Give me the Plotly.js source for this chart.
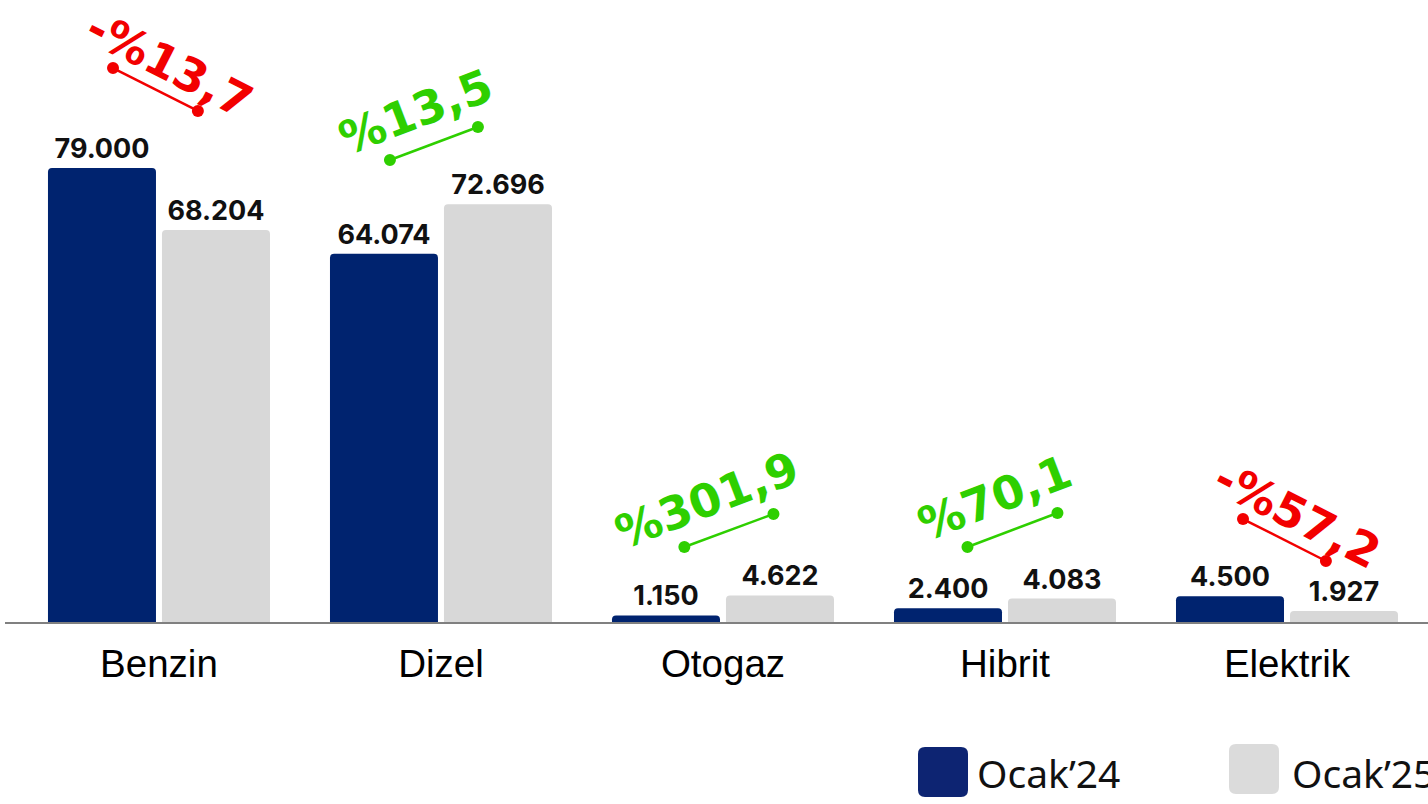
<!DOCTYPE html>
<html>
<head>
<meta charset="utf-8">
<script src="https://cdn.plot.ly/plotly-3.0.1.min.js"></script>
<style>
html,body{margin:0;padding:0;background:#fff;overflow:hidden;}
#chart{width:1428px;height:804px;}
</style>
</head>
<body>
<div id="chart"></div>
<script>
// ---- data ----
const categories = ['Benzin', 'Dizel', 'Otogaz', 'Hibrit', 'Elektrik'];
const ocak24 = [79000, 64074, 1150, 2400, 4500];
const ocak25 = [68204, 72696, 4622, 4083, 1927];
const seriesNames = ['Ocak’24', 'Ocak’25'];

// ---- style / layout constants ----
const W = 1428, H = 804;
const M = {l: 5, r: 0, t: 0, b: 182};
const PW = W - M.l - M.r, PH = H - M.t - M.b;
const YMAX = 108234;
const BLUE = '#00236f', GRAY = '#d8d8d8';
const RED = '#f20000', GREEN = '#2ecf00';

// connector decoration (category-offset x, axis-value y), not data
const connLeft  = [[-0.163, 96400], [-0.181, 80390], [-0.137, 13050], [-0.133, 13050], [-0.156, 17920]];
const connRight = [[ 0.138, 88920], [ 0.131, 86140], [ 0.179, 18790], [ 0.186, 18970], [ 0.138, 10615]];
const pctPos    = [[ 0.039, 96900], [-0.089, 88750], [-0.055, 21230], [-0.037, 21580], [ 0.036, 18620]];

function pctText(a, b) {
  const p = (b - a) / a * 100;
  const s = Math.abs(p).toFixed(1).replace('.', ',');
  return (p < 0 ? '-%' : '%') + s;
}

const traces = [
  {type: 'bar', name: seriesNames[0], x: categories, y: ocak24,
   marker: {color: BLUE}, texttemplate: '%{y:,}', textposition: 'outside',
   textfont: {family: 'Inter, sans-serif', size: 27, color: '#111', weight: 700},
   constraintext: 'none', cliponaxis: false, hoverinfo: 'none'},
  {type: 'bar', name: seriesNames[1], x: categories, y: ocak25,
   marker: {color: GRAY}, texttemplate: '%{y:,}', textposition: 'outside',
   textfont: {family: 'Inter, sans-serif', size: 27, color: '#111', weight: 700},
   constraintext: 'none', cliponaxis: false, hoverinfo: 'none'}
];

const shapes = [];
const annotations = [];

categories.forEach((c, i) => {
  const neg = ocak25[i] < ocak24[i];
  const col = neg ? RED : GREEN;
  const L = connLeft[i], R = connRight[i];
  shapes.push({type: 'line', xref: 'x', yref: 'y', x0: i + L[0], y0: L[1], x1: i + R[0], y1: R[1],
    line: {color: col, width: 2.5}});
  [L, R].forEach(p => {
    shapes.push({type: 'circle', xref: 'x', yref: 'y', xsizemode: 'pixel', ysizemode: 'pixel',
      xanchor: i + p[0], yanchor: p[1], x0: -6, x1: 6, y0: -6, y1: 6,
      fillcolor: col, line: {width: 0}});
  });
  annotations.push({xref: 'x', yref: 'y', x: i + pctPos[i][0], y: pctPos[i][1],
    text: pctText(ocak24[i], ocak25[i]), showarrow: false, textangle: neg ? 27 : -21,
    xanchor: 'center', yanchor: 'middle',
    font: {family: 'DejaVu Sans', size: 46, color: col, weight: 700}});
});

// legend drawn as shapes + text (px -> paper)
const px2x = px => (px - M.l) / PW;
const py2y = py => (M.t + PH - py) / PH;
function roundRect(x0, y0, x1, y1, r) {
  const P = (x, y) => px2x(x) + ',' + py2y(y);
  return 'M' + P(x0 + r, y0) + ' L' + P(x1 - r, y0) + ' Q' + P(x1, y0) + ' ' + P(x1, y0 + r) +
    ' L' + P(x1, y1 - r) + ' Q' + P(x1, y1) + ' ' + P(x1 - r, y1) +
    ' L' + P(x0 + r, y1) + ' Q' + P(x0, y1) + ' ' + P(x0, y1 - r) +
    ' L' + P(x0, y0 + r) + ' Q' + P(x0, y0) + ' ' + P(x0 + r, y0) + ' Z';
}
const legendItems = [
  {box: [918, 747, 968, 797], color: '#0d2472', tx: 975, ty: 772},
  {box: [1229, 744, 1279, 794], color: '#dbdbdb', tx: 1290, ty: 772}
];
legendItems.forEach((it, k) => {
  shapes.push({type: 'path', xref: 'paper', yref: 'paper', path: roundRect(...it.box, 7),
    fillcolor: it.color, line: {width: 0}});
  annotations.push({xref: 'paper', yref: 'paper', x: px2x(it.tx), y: py2y(it.ty),
    xanchor: 'left', yanchor: 'middle', showarrow: false, text: seriesNames[k],
    font: {family: 'Noto Sans', size: 39, color: '#111'}});
});

const layout = {
  width: W, height: H, margin: M,
  paper_bgcolor: '#fff', plot_bgcolor: '#fff',
  separators: ',.',
  barmode: 'group', bargap: 0.1915, bargroupgap: 0.0526, barcornerradius: 4,
  showlegend: false,
  xaxis: {type: 'category', range: [-0.546, 4.5], showline: true, linecolor: '#808080', linewidth: 2,
    ticks: '', showgrid: false, zeroline: false, ticklabelstandoff: 7,
    tickfont: {family: 'Liberation Sans, Arial, sans-serif', size: 38.5, color: '#000'}},
  yaxis: {range: [0, YMAX], visible: false, showgrid: false, zeroline: false},
  shapes: shapes, annotations: annotations,
  font: {family: 'Liberation Sans'}
};

Plotly.newPlot('chart', traces, layout, {displayModeBar: false, staticPlot: true});
</script>
</body>
</html>
